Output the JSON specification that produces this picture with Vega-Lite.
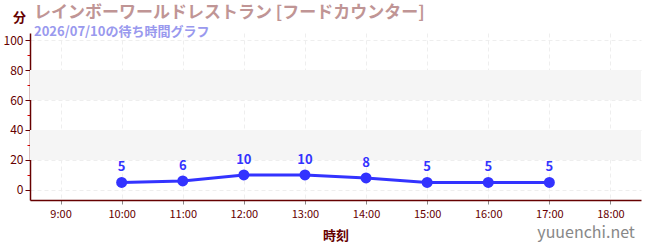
{
  "$schema": "https://vega.github.io/schema/vega-lite/v6.json",
  "width": 611,
  "height": 167,
  "autosize": "none",
  "padding": {"left": 30, "top": 33, "right": 9, "bottom": 50},
  "background": "white",
  "config": {
    "font": "Noto Sans CJK JP",
    "view": {"stroke": null}
  },
  "title": {
    "text": "レインボーワールドレストラン [フードカウンター]",
    "subtitle": "2026/07/10の待ち時間グラフ",
    "anchor": "start",
    "orient": "top",
    "frame": "group",
    "dx": 4,
    "offset": -29,
    "fontSize": 17,
    "fontWeight": "bold",
    "color": "#c09595",
    "subtitleFontSize": 13,
    "subtitleFontWeight": "bold",
    "subtitleColor": "#9999ee",
    "subtitlePadding": 4
  },
  "datasets": {
    "waits": [
      {"time": "10:00", "hour": 10, "wait": 5},
      {"time": "11:00", "hour": 11, "wait": 6},
      {"time": "12:00", "hour": 12, "wait": 10},
      {"time": "13:00", "hour": 13, "wait": 10},
      {"time": "14:00", "hour": 14, "wait": 8},
      {"time": "15:00", "hour": 15, "wait": 5},
      {"time": "16:00", "hour": 16, "wait": 5},
      {"time": "17:00", "hour": 17, "wait": 5}
    ],
    "bands": [
      {"lo": 20, "hi": 40},
      {"lo": 60, "hi": 80}
    ]
  },
  "layer": [
    {
      "data": {"name": "bands"},
      "mark": {"type": "rect", "color": "#f5f5f5"},
      "encoding": {
        "y": {
          "field": "lo", "type": "quantitative",
          "scale": {"domain": [-6.7, 104.7], "nice": false, "zero": false},
          "axis": {
            "values": [0, 10, 20, 30, 40, 50, 60, 70, 80, 90, 100],
            "tickCount": 20,
            "labelExpr": "datum.value % 20 === 0 ? datum.label : ''",
            "labelOverlap": false,
            "title": "分",
            "titleAngle": 0,
            "titleX": -11,
            "titleY": -16,
            "titleAlign": "center",
            "titleBaseline": "middle",
            "titleFontSize": 13,
            "titleFontWeight": "bold",
            "titleColor": "#660000",
            "labelColor": "#660000",
            "labelFontSize": 12,
            "labelPadding": 2,
            "domainColor": "#660000",
            "domainWidth": 1.5,
            "tickColor": {"condition": {"test": "datum.value % 20 === 10", "value": "#dd0000"}, "value": "#660000"},
            "tickSize": {"condition": {"test": "datum.value % 20 === 10", "value": 3}, "value": 5},
            "grid": true,
            "gridColor": "#eeeeee",
            "gridDash": [4, 3],
            "gridOpacity": {"condition": {"test": "datum.value % 20 === 10", "value": 0}, "value": 1}
          }
        },
        "y2": {"field": "hi"}
      }
    },
    {
      "data": {"name": "waits"},
      "mark": {"type": "line", "color": "#3333ff", "strokeWidth": 3},
      "encoding": {
        "x": {
          "field": "hour", "type": "quantitative",
          "scale": {"domain": [8.5, 18.5], "nice": false, "zero": false},
          "axis": {
            "values": [9, 10, 11, 12, 13, 14, 15, 16, 17, 18],
            "tickCount": 20,
            "labelExpr": "datum.value + ':00'",
            "labelOverlap": false,
            "title": "時刻",
            "titleFontSize": 13,
            "titleFontWeight": "bold",
            "titleColor": "#660000",
            "titlePadding": 10,
            "labelColor": "#660000",
            "labelFontSize": 11,
            "labelPadding": 4,
            "domainColor": "#660000",
            "domainWidth": 1.5,
            "tickColor": "#888888",
            "tickSize": 4,
            "grid": true,
            "gridColor": "#eeeeee",
            "gridDash": [4, 3]
          }
        },
        "y": {"field": "wait", "type": "quantitative"}
      }
    },
    {
      "data": {"name": "waits"},
      "mark": {"type": "circle", "color": "#3333ff", "size": 120, "opacity": 1},
      "encoding": {
        "x": {"field": "hour", "type": "quantitative"},
        "y": {"field": "wait", "type": "quantitative"}
      }
    },
    {
      "data": {"name": "waits"},
      "mark": {"type": "text", "color": "#3333ff", "fontSize": 13, "fontWeight": "bold", "dy": -15},
      "encoding": {
        "x": {"field": "hour", "type": "quantitative"},
        "y": {"field": "wait", "type": "quantitative"},
        "text": {"field": "wait", "type": "quantitative"}
      }
    },
    {
      "data": {"values": [{"site": "yuuenchi.net"}]},
      "mark": {"type": "text", "color": "#888888", "fontSize": 16, "align": "right", "baseline": "middle", "clip": false},
      "encoding": {
        "x": {"datum": 18.4},
        "y": {"datum": -29},
        "text": {"field": "site", "type": "nominal"}
      }
    }
  ]
}
